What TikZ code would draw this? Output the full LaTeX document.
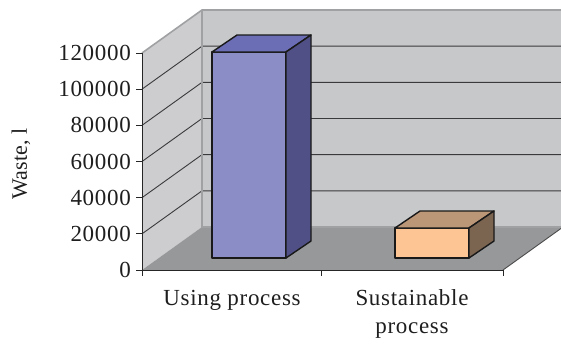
\documentclass[tikz,border=0pt]{standalone}
\usepackage{fontspec}
\setmainfont{Liberation Serif}
\newfontfamily\spacedserif{Liberation Serif}[LetterSpace=3]
\definecolor{wallL}{HTML}{CDCDCF}
\definecolor{wallB}{HTML}{C7C8CA}
\definecolor{floorc}{HTML}{97989A}
\definecolor{edgec}{HTML}{A0A1A3}
\definecolor{gridc}{HTML}{3A3A3C}
\definecolor{bfront}{HTML}{8A8DC6}
\definecolor{btop}{HTML}{6B6DB5}
\definecolor{bside}{HTML}{505086}
\definecolor{ofront}{HTML}{FDC593}
\definecolor{otop}{HTML}{BB9677}
\definecolor{oside}{HTML}{7B6450}
\definecolor{txt}{HTML}{1E1E1E}
\begin{document}
\begin{tikzpicture}[x=1pt,y=-1pt,
  gridline/.style={draw=gridc,line width=0.9pt},
  edgeline/.style={draw=edgec,line width=1.6pt},
  axisline/.style={draw=black!85,line width=0.9pt},
  barline/.style={draw=black!90,line width=1.4pt,line join=round},
  lab/.style={text=txt,font=\spacedserif\fontsize{23}{27}\selectfont,inner sep=0pt},
  ylabstyle/.style={text=txt,font=\fontsize{22}{26}\selectfont,inner sep=0pt}]
\useasboundingbox (0,0) rectangle (561,343);
% walls and floor
\fill[wallL] (142,53) -- (202,10) -- (202,227) -- (142,270) -- cycle;
\fill[wallB] (202,10) rectangle (561,227);
\fill[floorc] (142,270) -- (202,227) -- (563,227) -- (503,270) -- cycle;
% gridlines
\foreach \v in {1,...,5}{
  \pgfmathsetmacro{\yf}{270-\v*36.17}
  \pgfmathsetmacro{\yb}{\yf-43}
  \draw[gridline] (142,\yf) -- (202,\yb) -- (561,\yb);
}
% wall edges
\draw[edgeline] (142,53) -- (202,10) -- (561,10);
\draw[edgeline] (202,10) -- (202,227) -- (561,227);
\draw[gridline,draw=black!70] (503,270) -- (563,227);
% blue bar
\filldraw[barline,fill=bfront] (212,52) rectangle (286,258);
\filldraw[barline,fill=btop] (212,52) -- (237,35) -- (311,35) -- (286,52) -- cycle;
\filldraw[barline,fill=bside] (286,52) -- (311,35) -- (311,241) -- (286,258) -- cycle;
% orange bar
\filldraw[barline,fill=ofront] (395,228) rectangle (469,258);
\filldraw[barline,fill=otop] (395,228) -- (420,211) -- (494,211) -- (469,228) -- cycle;
\filldraw[barline,fill=oside] (469,228) -- (494,211) -- (494,241) -- (469,258) -- cycle;
% axes
\draw[axisline] (142,53) -- (142,276);
\draw[axisline] (142,270) -- (503,270);
\foreach \x in {321,503} \draw[axisline] (\x,270) -- (\x,276);
\foreach \v/\t in {0/0,1/20000,2/40000,3/60000,4/80000,5/100000,6/120000}{
  \pgfmathsetmacro{\yf}{270-\v*36.17}
  \draw[axisline] (136,\yf) -- (142,\yf);
  \node[lab,anchor=east] (t\v) at (131,\yf) {\t};
}
\node[ylabstyle,rotate=90] (ylab) at (21,164) {Waste, l};
\node[lab,anchor=base] (c1) at (232,305) {Using process};
\node[lab,anchor=base] (c2a) at (412,305) {Sustainable};
\node[lab,anchor=base] (c2b) at (412,333) {process};
\end{tikzpicture}
\end{document}
